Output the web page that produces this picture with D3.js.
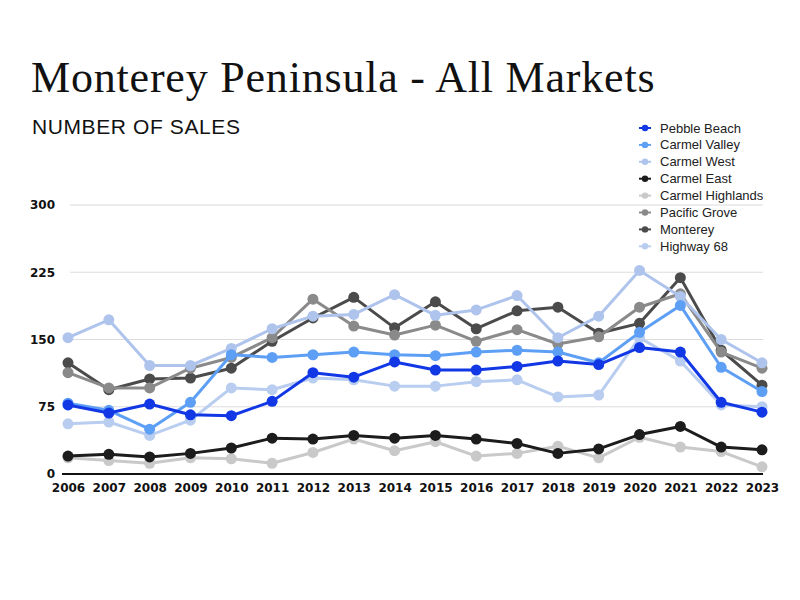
<!DOCTYPE html>
<html>
<head>
<meta charset="utf-8">
<script src="https://cdn.jsdelivr.net/npm/d3@7"></script>
<style>
  body { margin: 0; background: #fff; }
  svg { display: block; }
</style>
</head>
<body>
<svg id="chart" width="800" height="600"></svg>
<script>
const years = [2006, 2007, 2008, 2009, 2010, 2011, 2012, 2013, 2014, 2015, 2016, 2017, 2018, 2019, 2020, 2021, 2022, 2023];
const seriesNames = ["Pebble Beach", "Carmel Valley", "Carmel West", "Carmel East", "Carmel Highlands", "Pacific Grove", "Monterey", "Highway 68"];
const pebbleBeach     = [77, 68, 78, 66, 65, 81, 113, 108, 125, 116, 116, 120, 126, 122, 141, 136, 80, 69];
const carmelValley    = [79, 71, 50, 80, 133, 130, 133, 136, 133, 132, 136, 138, 136, 124, 158, 188, 119, 92];
const carmelWest      = [152, 172, 121, 121, 140, 162, 176, 178, 200, 177, 183, 199, 152, 176, 227, 198, 150, 124];
const carmelEast      = [20, 22, 19, 23, 29, 40, 39, 43, 40, 43, 39, 34, 23, 28, 44, 53, 30, 27];
const carmelHighlands = [18, 15, 12, 18, 17, 12, 24, 39, 26, 36, 20, 23, 31, 18, 41, 30, 25, 8];
const pacificGrove    = [113, 96, 96, 118, 130, 152, 195, 165, 155, 166, 148, 161, 145, 153, 186, 201, 136, 118];
const monterey        = [124, 94, 106, 107, 118, 148, 174, 197, 163, 192, 162, 182, 186, 157, 168, 219, 138, 99];
const highway68       = [56, 58, 43, 60, 96, 94, 107, 105, 98, 98, 103, 105, 86, 88, 152, 126, 77, 75];
const colors = ["#1238e6", "#5e9ff6", "#afc4ec", "#1c1c1c", "#c9c9c9", "#8a8a8a", "#4b4b4b", "#b9cdf0"];
const yTicks = [0, 75, 150, 225, 300];

const values = [pebbleBeach, carmelValley, carmelWest, carmelEast, carmelHighlands, pacificGrove, monterey, highway68];
const series = seriesNames.map((name, i) => ({
  name: name,
  color: colors[i],
  points: years.map((yr, j) => ({ year: yr, value: values[i][j] }))
}));

const svg = d3.select("#chart");

svg.append("text")
  .attr("x", 31).attr("y", 92)
  .attr("font-family", "Liberation Serif, DejaVu Serif, serif")
  .attr("font-size", 44)
  .attr("letter-spacing", 0.8)
  .attr("fill", "#111")
  .text("Monterey Peninsula - All Markets");

svg.append("text")
  .attr("x", 32).attr("y", 134)
  .attr("font-family", "Liberation Sans, Arial, sans-serif")
  .attr("font-size", 21)
  .attr("letter-spacing", 0.6)
  .attr("fill", "#111")
  .text("NUMBER OF SALES");

const x = d3.scalePoint().domain(years).range([68, 762]);
const y = d3.scaleLinear().domain([0, 300]).range([474, 205]);

// gridlines
svg.append("g")
  .selectAll("line")
  .data(yTicks.filter(d => d > 0))
  .join("line")
  .attr("x1", 70).attr("x2", 763)
  .attr("y1", d => y(d)).attr("y2", d => y(d))
  .attr("stroke", "#dcdcdc")
  .attr("stroke-width", 1.2);

// y axis labels
const yAxis = svg.append("g")
  .attr("transform", "translate(55,0)")
  .call(d3.axisLeft(y).tickValues(yTicks).tickSize(0).tickPadding(0));
yAxis.select(".domain").remove();
yAxis.selectAll("text")
  .attr("font-family", "DejaVu Sans, sans-serif")
  .attr("font-weight", "bold")
  .attr("font-size", 12)
  .attr("fill", "#111");

// x axis
const xAxis = svg.append("g")
  .attr("transform", "translate(0,474)")
  .call(d3.axisBottom(x).tickSize(0).tickPadding(9));
xAxis.select(".domain").remove();
xAxis.selectAll("text")
  .attr("font-family", "DejaVu Sans, sans-serif")
  .attr("font-weight", "bold")
  .attr("font-size", 12)
  .attr("fill", "#111");

svg.append("line")
  .attr("x1", 62).attr("x2", 763)
  .attr("y1", y(0)).attr("y2", y(0))
  .attr("stroke", "#111")
  .attr("stroke-width", 2);

// series, drawn last-to-first so the first one sits on top
const line = d3.line().x(d => x(d.year)).y(d => y(d.value));
const groups = svg.append("g")
  .selectAll("g")
  .data(series.slice().reverse())
  .join("g");

groups.append("path")
  .attr("d", d => line(d.points))
  .attr("fill", "none")
  .attr("stroke", d => d.color)
  .attr("stroke-width", 3)
  .attr("stroke-linejoin", "round");

groups.selectAll("circle")
  .data(d => d.points.map(p => ({ ...p, color: d.color })))
  .join("circle")
  .attr("cx", d => x(d.year))
  .attr("cy", d => y(d.value))
  .attr("r", 5.5)
  .attr("fill", d => d.color);

// legend
const legend = svg.append("g")
  .selectAll("g")
  .data(series)
  .join("g")
  .attr("transform", (d, i) => `translate(645,${128 + i * 16.9})`);

legend.append("line")
  .attr("x1", -6).attr("x2", 6)
  .attr("stroke", d => d.color)
  .attr("stroke-width", 2);
legend.append("circle")
  .attr("r", 3.2)
  .attr("fill", d => d.color);
legend.append("text")
  .attr("x", 15).attr("dy", "0.35em")
  .attr("font-family", "Liberation Sans, Arial, sans-serif")
  .attr("font-size", 13)
  .attr("fill", "#222")
  .text(d => d.name);
</script>
</body>
</html>
